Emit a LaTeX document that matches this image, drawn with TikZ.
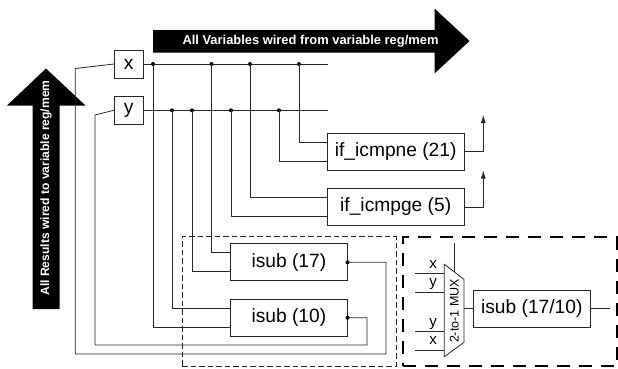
\documentclass[tikz,border=0pt]{standalone}
\usepackage{fontspec}
\setmainfont{Liberation Sans}
\usetikzlibrary{calc,arrows.meta}
\tikzset{
  wire/.style={line width=0.8pt,draw=black!85},
  blk/.style={draw=black!85,line width=0.8pt,fill=white,inner sep=0pt,font=\fontsize{19.2}{21}\selectfont},
  var/.style={blk,minimum width=29pt,minimum height=28pt},
  cmp/.style={blk,minimum width=137pt,minimum height=37pt},
  sub/.style={blk,minimum width=116.5pt,minimum height=37pt},
  jdot/.style={circle,fill=black,inner sep=0pt,minimum size=4pt},
  bigarrow/.style={fill=black,draw=none},
  arrowtext/.style={text=white,font=\bfseries\fontsize{12.9}{14}\selectfont,inner sep=0pt},
  lefttextstyle/.style={text=white,font=\bfseries\fontsize{12.1}{14}\selectfont,inner sep=0pt},
  lab/.style={inner sep=0pt,font=\fontsize{15}{16}\selectfont},
  up/.style={wire,-{Latex[length=8pt,width=5pt]}},
}
\begin{document}
\begin{tikzpicture}[x=1pt,y=-1pt]
\useasboundingbox (0,0) rectangle (618,368);
% big arrows
\path[bigarrow] (153,30) -- (434.5,30) -- (434.5,8.5) -- (469.5,41) -- (434.5,73.5) -- (434.5,52.5) -- (153,52.5) -- cycle;
\node[arrowtext] (toptext) at (310.5,41) {All Variables wired from variable reg/mem};
\path[bigarrow] (32.5,309) -- (32.5,105.5) -- (7,105.5) -- (46,68.5) -- (85.5,105.5) -- (59.5,105.5) -- (59.5,309) -- cycle;
\node[lefttextstyle,rotate=90] (lefttext) at (46,188) {All Results wired to variable reg/mem};
% dashed frames
\node[draw=black!85,dash pattern=on 5.5pt off 3pt,line width=0.7pt,minimum width=213.5pt,minimum height=129.5pt,inner sep=0pt] (thin) at (289.2,301.5) {};
\node[draw=black,line width=2pt,dash pattern=on 13pt off 9pt,minimum width=214pt,minimum height=128.5pt,inner sep=0pt] (thick) at (509.7,301.5) {};
% blocks
\node[var] (x) at (128.7,64) {x};
\node[var] (y) at (128.7,110.3) {y};
\node[cmp] (ne) at (395.7,151.7) {if\_icmpne (21)};
\node[cmp] (ge) at (395.7,207) {if\_icmpge (5)};
\node[sub] (s17) at (288.9,262.3) {isub (17)};
\node[sub] (s10) at (288.9,317.7) {isub (10)};
\node[blk,minimum width=117pt,minimum height=37.3pt] (s) at (531.8,308.7) {isub (17/10)};
% buses
\coordinate (xe) at (328,64);
\coordinate (ye) at (328,110.3);
\draw[wire] (x.east) -- (xe);
\draw[wire] (y.east) -- (ye);
% bus taps
\foreach \n/\px in {xa/153,xb/211.5,xc/250,xd/299} \node[jdot] (\n) at (\px,64) {};
\foreach \n/\px in {ya/172,yb/192,yc/231,yd/279} \node[jdot] (\n) at (\px,110.3) {};
% pins
\coordinate (ne1) at ($(ne.north west)!0.25!(ne.south west)$);
\coordinate (ne2) at ($(ne.north west)!0.75!(ne.south west)$);
\coordinate (ge1) at ($(ge.north west)!0.25!(ge.south west)$);
\coordinate (ge2) at ($(ge.north west)!0.75!(ge.south west)$);
\coordinate (a1) at ($(s17.north west)!0.25!(s17.south west)$);
\coordinate (a2) at ($(s17.north west)!0.75!(s17.south west)$);
\coordinate (b1) at ($(s10.north west)!0.25!(s10.south west)$);
\coordinate (b2) at ($(s10.north west)!0.75!(s10.south west)$);
\draw[wire] (xd.center) |- (ne1);
\draw[wire] (yd.center) |- (ne2);
\draw[wire] (xc.center) |- (ge1);
\draw[wire] (yc.center) |- (ge2);
\draw[wire] (xb.center) |- (a1);
\draw[wire] (yb.center) |- (a2);
\draw[wire] (ya.center) |- (b1);
\draw[wire] (xa.center) |- (b2);
% branch outputs
\coordinate (netip) at (483.3,115);
\coordinate (getip) at (483.3,170.5);
\draw[up] (ne.east) -| (netip);
\draw[up] (ge.east) -| (getip);
% results
\node[jdot] (o17) at (s17.east) {};
\node[jdot] (o10) at (s10.east) {};
\draw[wire] (o17.center) -- (386,262.3) -- (386,354) -- (75.3,354) -- (75.3,68.5) -- (x.west);
\draw[wire] (o10.center) -- (367,317.7) -- (367,345) -- (95,345) -- (95,115) -- (y.west);
% mux
\draw[wire,fill=white] (444.3,264.3) coordinate (m1) -- (464,279.3) coordinate (m2) -- (464,342.3) coordinate (m3) -- (444.3,356.7) coordinate (m4) -- cycle;
\node[inner sep=0pt,rotate=90,font=\fontsize{12.5}{14}\selectfont] (mux) at (454.3,311) {2-to-1 MUX};
\coordinate (sel) at (454,243.3);
\coordinate (selb) at (454,271.8);
\draw[wire] (sel) -- (selb);
\foreach \n/\py in {i1/273.3,i2/292,i3/331.7,i4/350} {
  \coordinate (\n) at (415,\py);
  \coordinate (\n e) at (444.3,\py);
  \draw[wire] (\n) -- (\n e);
}
\node[lab] (lx1) at (433,265) {x};
\node[lab] (ly1) at (433,284) {y};
\node[lab] (ly2) at (433,324) {y};
\node[lab] (lx2) at (433,341) {x};
\coordinate (muxout) at (464,308.7);
\coordinate (sout) at (610,308.7);
\draw[wire] (muxout) -- (s.west);
\draw[wire] (s.east) -- (sout);
\end{tikzpicture}
\end{document}
